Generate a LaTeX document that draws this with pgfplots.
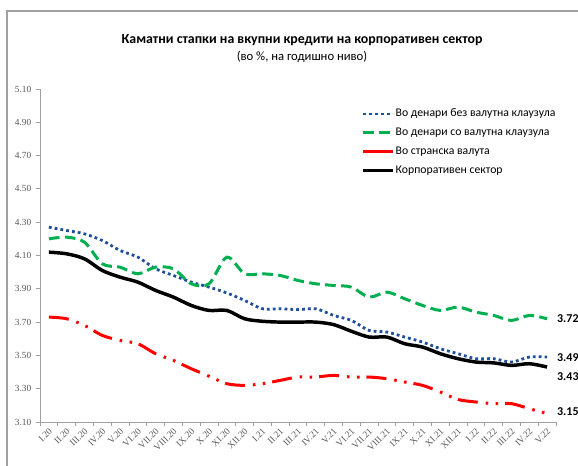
\documentclass[border=0pt]{standalone}
\usepackage{fontspec}
\setmainfont{Carlito}
\newfontfamily\tickfont{Liberation Serif}
\usepackage{pgfplots}
\pgfplotsset{compat=1.18}
\definecolor{myblue}{HTML}{1F4E9A}
\definecolor{mygreen}{HTML}{00B050}
\definecolor{myred}{HTML}{FF0000}
\definecolor{ticktext}{HTML}{595959}
\definecolor{axisgray}{HTML}{A0A0A0}
\begin{document}
\begin{tikzpicture}
\useasboundingbox (-30pt,-33pt) rectangle (403.5pt,316.5pt);
\fill[white] (-30pt,-33pt) rectangle (403.5pt,316.5pt);
\draw[axisgray, line width=0.8pt] (-24.75pt,-40pt) -- (-24.75pt,308.25pt) -- (410pt,308.25pt);
\node[font=\bfseries\fontsize{10.4}{12}\selectfont] at (196.5pt,286.5pt) {Каматни стапки на вкупни кредити на корпоративен сектор};
\node[font=\fontsize{9.5}{11}\selectfont] at (196.5pt,274pt) {(во \%, на годишно ниво)};
\begin{axis}[
  at={(0,0)}, anchor=south west, scale only axis,
  width=387pt, height=249.75pt,
  xmin=-0.5, xmax=28.5, ymin=3.1, ymax=5.1,
  axis lines=left, axis line style={-, draw=axisgray, line width=0.6pt},
  every non boxed x axis/.append style={x axis line style=-},
  every non boxed y axis/.append style={y axis line style=-},
  clip=false,
  tick align=outside,
  xtick={0,...,28},
  major x tick style={draw=none},
  minor xtick={-0.5,0.5,...,28.5},
  minor tick length=3pt,
  minor x tick style={draw=axisgray, line width=0.6pt},
  xticklabels={I.20,II.20,III.20,IV.20,V.20,VI.20,VII.20,VIII.20,IX.20,X.20,XI.20,XII.20,I.21,II.21,III.21,IV.21,V.21,VI.21,VII.21,VIII.21,IX.21,X.21,XI.21,XII.21,I.22,II.22,III.22,IV.22,V.22},
  xticklabel style={rotate=45, anchor=east, font=\tickfont\fontsize{7}{8}\selectfont, text=ticktext, yshift=-3pt, inner sep=1pt},
  ytick={3.1,3.3,3.5,3.7,3.9,4.1,4.3,4.5,4.7,4.9,5.1},
  yticklabels={3.10,3.30,3.50,3.70,3.90,4.10,4.30,4.50,4.70,4.90,5.10},
  major y tick style={draw=axisgray, line width=0.6pt},
  major tick length=3pt,
  yticklabel style={font=\tickfont\fontsize{7}{8}\selectfont, text=ticktext},
  legend style={at={(axis description cs:0.615,0.953)}, anchor=north west, draw=none, fill=none,
    font=\fontsize{8.8}{10}\selectfont, row sep=5pt, nodes={inner sep=1pt}},
  legend cell align=left,
  legend image code/.code={\draw[#1] (0pt,0pt) -- (22pt,0pt);},
]
\addplot[myblue, line width=2.1pt, dash pattern=on 2.1pt off 2.3pt, smooth] coordinates {
(0,4.27)(1,4.25)(2,4.23)(3,4.19)(4,4.13)(5,4.09)(6,4.02)(7,3.98)(8,3.94)(9,3.91)(10,3.875)(11,3.83)(12,3.78)(13,3.78)(14,3.775)(15,3.78)(16,3.74)(17,3.71)(18,3.65)(19,3.64)(20,3.61)(21,3.58)(22,3.54)(23,3.51)(24,3.48)(25,3.48)(26,3.46)(27,3.49)(28,3.49)};
\addlegendentry{Во денари без валутна клаузула}
\addplot[mygreen, line width=2.25pt, dash pattern=on 8pt off 4pt, smooth] coordinates {
(0,4.20)(1,4.21)(2,4.18)(3,4.05)(4,4.03)(5,3.99)(6,4.03)(7,4.02)(8,3.93)(9,3.93)(10,4.09)(11,3.99)(12,3.99)(13,3.98)(14,3.95)(15,3.93)(16,3.92)(17,3.91)(18,3.85)(19,3.88)(20,3.84)(21,3.80)(22,3.77)(23,3.79)(24,3.76)(25,3.74)(26,3.71)(27,3.74)(28,3.72)};
\addlegendentry{Во денари со валутна клаузула}
\addplot[myred, line width=2.25pt, dash pattern=on 15pt off 6pt on 1.9pt off 5.6pt on 1.9pt off 5.2pt, smooth, forget plot] coordinates {
(0,3.73)(1,3.72)(2,3.68)(3,3.62)(4,3.59)(5,3.57)(6,3.51)(7,3.47)(8,3.42)(9,3.375)(10,3.33)(11,3.32)(12,3.33)(13,3.35)(14,3.37)(15,3.37)(16,3.38)(17,3.37)(18,3.37)(19,3.36)(20,3.34)(21,3.32)(22,3.28)(23,3.235)(24,3.22)(25,3.21)(26,3.21)(27,3.18)(28,3.15)};
\addlegendimage{myred, line width=2.25pt, solid}
\addlegendentry{Во странска валута}
\addplot[black, line width=2.6pt, smooth] coordinates {
(0,4.12)(1,4.11)(2,4.08)(3,4.01)(4,3.97)(5,3.94)(6,3.89)(7,3.85)(8,3.80)(9,3.77)(10,3.77)(11,3.72)(12,3.705)(13,3.70)(14,3.70)(15,3.70)(16,3.685)(17,3.645)(18,3.61)(19,3.61)(20,3.57)(21,3.55)(22,3.51)(23,3.48)(24,3.46)(25,3.455)(26,3.44)(27,3.45)(28,3.43)};
\addlegendentry{Корпоративен сектор}
\node[anchor=west, inner sep=0pt, font=\bfseries\fontsize{9}{10}\selectfont] at (axis cs:28.55,3.72) {3.72};
\node[anchor=west, inner sep=0pt, font=\bfseries\fontsize{9}{10}\selectfont] at (axis cs:28.55,3.485) {3.49};
\node[anchor=west, inner sep=0pt, font=\bfseries\fontsize{9}{10}\selectfont] at (axis cs:28.55,3.375) {3.43};
\node[anchor=west, inner sep=0pt, font=\bfseries\fontsize{9}{10}\selectfont] at (axis cs:28.55,3.16) {3.15};
\end{axis}
\end{tikzpicture}
\end{document}
